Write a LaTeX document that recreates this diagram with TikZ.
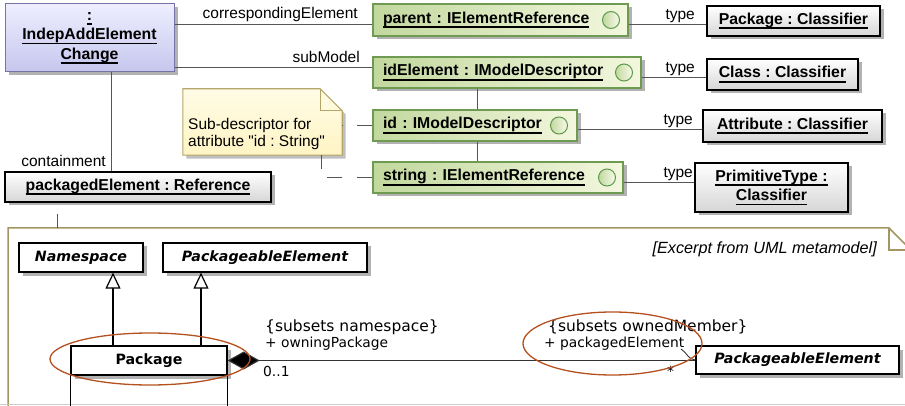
\documentclass[tikz,border=0pt]{standalone}
\usepackage{fontspec}
\setmainfont{Liberation Sans}[Ligatures=TeXOff]
\newfontfamily\dvs{DejaVu Sans}
\usetikzlibrary{arrows.meta,shadows,calc}
\definecolor{lavT}{HTML}{EEEEFF}
\definecolor{lavB}{HTML}{C6C6EE}
\definecolor{lavD}{HTML}{7474A8}
\definecolor{grnL}{HTML}{C2D89E}
\definecolor{grnR}{HTML}{F3F7DE}
\definecolor{grnD}{HTML}{6E9A52}
\definecolor{cirD}{HTML}{5C9A4A}
\definecolor{noteT}{HTML}{FFFCE6}
\definecolor{noteB}{HTML}{FFF4C4}
\definecolor{noteD}{HTML}{B4A66A}
\definecolor{frameC}{HTML}{A39660}
\definecolor{redC}{HTML}{B5501F}
\definecolor{lineC}{HTML}{555555}
\newcommand\myul[1]{\leavevmode\setbox0=\hbox{#1}\rlap{\rule[-4.6pt]{\wd0}{1.6pt}}\box0}
\newcommand\fb{\fontsize{15.8}{19.5}\selectfont\bfseries}
\newcommand\fr{\fontsize{15.5}{17.5}\selectfont}
\frenchspacing
\begin{document}
\begin{tikzpicture}[x=1pt,y=-1pt,
  shad/.style={drop shadow={shadow xshift=3.5pt,shadow yshift=-3.5pt,fill=black!30,opacity=1}},
  lavbox/.style={draw=lavD,line width=1pt,top color=lavT,bottom color=lavB,shad,inner sep=0pt,align=center,font=\fb},
  greenbox/.style={draw=grnD,line width=1.1pt,left color=grnL,right color=grnR,shad,inner ysep=0pt,inner xsep=10pt,align=left,font=\fb},
  graybox/.style={draw=black,line width=1.4pt,top color=white,bottom color=black!16,shad,inner sep=0pt,align=center,font=\fb},
  circ/.style={circle,draw=cirD,line width=1pt,minimum size=17pt,inner sep=0pt,left color=grnL,right color=grnR!60!white},
  umlbox/.style={draw=black,line width=1.3pt,fill=white,shad,inner sep=0pt,font=\dvs\fontsize{14.2}{16}\selectfont\bfseries},
  conn/.style={draw=lineC,line width=1pt},
  dashc/.style={draw=lineC,line width=1pt,dash pattern=on 15pt off 15pt},
  lbl/.style={inner sep=0pt,font=\fr},
  ulbl/.style={inner sep=0pt,font=\dvs\fontsize{15.5}{17}\selectfont},
  slbl/.style={inner sep=0pt,font=\dvs\fontsize{13.8}{16}\selectfont},
  gen/.style={draw=black,line width=1.2pt,-{Triangle[open,length=16pt,width=15pt,fill=white]}},
  comp/.style={draw=black!80,line width=1.2pt,{Diamond[length=32pt,width=18pt,fill=black]}-},
  redell/.style={draw=redC,line width=1.3pt}
]
\useasboundingbox (0,0) rectangle (905,406);
\clip (0,0) rectangle (905,406);
\fill[white] (0,0) rectangle (905,406);

% ---------------- upper object diagram ----------------
\node[lavbox,minimum width=169pt,minimum height=68pt] (ind) at (89.5,38)
  {\myul{:}\\\myul{IndepAddElement}\\\myul{Change}};

\node[greenbox,minimum width=255pt,minimum height=32pt,text width=235pt] (par) at (500.5,20) {\myul{parent : IElementReference}};
\node[greenbox,minimum width=268pt,minimum height=31pt,text width=248pt] (idel) at (507,72.5) {\myul{idElement : IModelDescriptor}};
\node[greenbox,minimum width=204pt,minimum height=31pt,text width=184pt] (idn) at (475,125.5) {\myul{id : IModelDescriptor}};
\node[greenbox,minimum width=250pt,minimum height=31pt,text width=230pt] (str) at (498,177.5) {\myul{string : IElementReference}};

\node[circ] (parc) at (611,20) {};
\node[circ] (idelc) at (624,72.5) {};
\node[circ] (idnc) at (559,125.5) {};
\node[circ] (strc) at (607,177.5) {};

\node[graybox,minimum width=173pt,minimum height=30pt] (pkgC) at (793.5,21) {\myul{Package : Classifier}};
\node[graybox,minimum width=151pt,minimum height=31pt] (classC) at (782.5,74.5) {\myul{Class : Classifier}};
\node[graybox,minimum width=179pt,minimum height=32pt] (attrC) at (792.5,126) {\myul{Attribute : Classifier}};
\node[graybox,minimum width=153pt,minimum height=49pt] (primC) at (771.5,187.5) {\myul{PrimitiveType :}\\\myul{Classifier}};
\node[graybox,minimum width=266pt,minimum height=30pt] (ref) at (138,187) {\myul{packagedElement : Reference}};

% connectors of IndepAddElementChange
\draw[conn] (ind.east |- 0,25) -- (par.west |- 0,25);
\node[lbl,anchor=base east] at (358,19) {correspondingElement};
\draw[conn] (ind.east |- 0,68) -- (idel.west |- 0,68);
\node[lbl,anchor=base east] at (360,62.5) {subModel};
\draw[conn] (ind.south -| 111,0) -- (ref.north -| 111,0);
\node[lbl,anchor=base east] at (106,167) {containment};

% descriptor chain
\draw[conn] (idel.south -| 477,0) -- (idn.north -| 477,0);
\draw[conn] (idn.south -| 477,0) -- (str.north -| 477,0);

% type connectors
\draw[conn] ([yshift=-5pt]par.east) -- ([yshift=-5pt]par.east -| pkgC.west);
\draw[conn] ([yshift=-5.5pt]idel.east) -- ([yshift=-5.5pt]idel.east -| classC.west);
\draw[conn] ([yshift=-4.5pt]idn.east) -- ([yshift=-4.5pt]idn.east -| attrC.west);
\draw[conn] ([yshift=-5.5pt]str.east) -- ([yshift=-5.5pt]str.east -| primC.west);
\node[lbl,anchor=base east] at (695,19.5) {type};
\node[lbl,anchor=base east] at (695,72.5) {type};
\node[lbl,anchor=base east] at (693,124.5) {type};
\node[lbl,anchor=base east] at (693,177.5) {type};

% note
\node[minimum width=159pt,minimum height=66pt,inner sep=0pt] (note) at (262.5,122) {};
\fill[black!25] ([shift={(3.5pt,-3.5pt)}]note.north west) -- ([shift={(-18.5pt,-3.5pt)}]note.north east) -- ([shift={(3.5pt,-25.5pt)}]note.north east) -- ([shift={(3.5pt,-3.5pt)}]note.south east) -- ([shift={(3.5pt,-3.5pt)}]note.south west) -- cycle;
\draw[noteD,line width=1.1pt,top color=noteT,bottom color=noteB] (note.north west) -- ([xshift=-22pt]note.north east) -- ([yshift=-22pt]note.north east) -- (note.south east) -- (note.south west) -- cycle;
\draw[noteD,line width=1.1pt] ([xshift=-22pt]note.north east) -- ([shift={(-22pt,-22pt)}]note.north east) -- ([yshift=-22pt]note.north east);
\node[lbl,anchor=north west,align=left,font=\fontsize{15.5}{17.5}\selectfont] (ntext) at (188,118) {Sub-descriptor for\\attribute "id : String"};
\draw[dashc] (idn.west) -- (idn.west -| note.east);
\draw[dashc] (str.west) -- (str.west -| 321,0) -- (note.south -| 321,0);

% ---------------- excerpt frame ----------------
\draw[frameC,line width=1.5pt] (8,408) -- (8,228) -- (889,228) -- (911,250);
\draw[frameC,line width=1.5pt] (889,228) -- (889,250) -- (911,250);
\draw[black!20,line width=1pt] (0,404.5) -- (905,404.5);
\coordinate (frtop) at (57,228);
\draw[conn] ([yshift=-11pt]ref.south -| frtop) -- (frtop);
\node[lbl,anchor=base east,font=\fontsize{16.2}{18}\selectfont\itshape] (exc) at (877,254) {[Excerpt from UML metamodel]};

\node[umlbox,minimum width=124pt,minimum height=29pt] (ns) at (81,257.5) {\itshape Namespace};
\node[umlbox,minimum width=204pt,minimum height=29pt] (pe1) at (265,257.5) {\itshape PackageableElement};
\node[umlbox,minimum width=156pt,minimum height=29pt] (pkg) at (149,360.5) {Package};
\draw[black,line width=1.3pt] (pkg.south west) -- ++(0,35);
\draw[black,line width=1.3pt] (pkg.south east) -- ++(0,35);
\node[umlbox,minimum width=203pt,minimum height=28pt] (pe2) at (797.5,360) {\itshape PackageableElement};

\draw[gen] (pkg.north -| 113,0) -- (ns.south -| 113,0);
\draw[gen] (pkg.north -| 201,0) -- (pe1.south -| 201,0);
\draw[comp] (pkg.east) -- (pkg.east -| pe2.west);

\node[ulbl,anchor=base west] at (265,331) {\{subsets namespace\}};
\node[slbl,anchor=base west] at (265,347) {+ owningPackage};
\node[slbl,anchor=base west] at (263,376) {0..1};
\node[ulbl,anchor=base west] at (548,331) {\{subsets ownedMember\}};
\node[slbl,anchor=base west] (pel) at (544,347) {+ packagedElement};
\node[slbl,anchor=base west] at (667,376) {*};
\coordinate (lead) at (681,349);
\draw[black!80,line width=0.9pt] (lead) to[out=-30,in=180] (pe2.west);

% highlight ellipses
\draw[redell] (150,359) ellipse [x radius=100pt,y radius=26pt];
\draw[redell] (612.5,343.5) ellipse [x radius=89.5pt,y radius=31.5pt];
\end{tikzpicture}
\end{document}
